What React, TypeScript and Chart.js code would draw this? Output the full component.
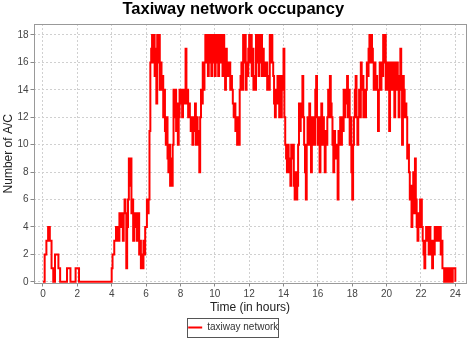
import React, { useEffect, useRef } from "react";
import { Chart, registerables } from "chart.js";

Chart.register(...registerables);

const chartTitle = "Taxiway network occupancy";
const xAxisTitle = "Time (in hours)";
const yAxisTitle = "Number of A/C";
const seriesLabel = "taxiway network";

const xTicks = [0, 2, 4, 6, 8, 10, 12, 14, 16, 18, 20, 22, 24];
const yTicks = [0, 2, 4, 6, 8, 10, 12, 14, 16, 18];

// aircraft count, one row per hour; samples are evenly spread over the hour
// (10 samples = every 6 min, 20 samples = every 3 min)
const countsByHour: number[][] = [
  [0, 2, 3, 4, 3, 1, 0, 2, 2, 1],
  [0, 0, 0, 0, 1, 1, 0, 0, 0, 1],
  [1, 0, 0, 0, 0, 0, 0, 0, 0, 0],
  [0, 0, 0, 0, 0, 0, 0, 0, 0, 0],
  [1, 2, 2, 3, 3, 4, 3, 4, 3, 5, 4, 5, 4, 3, 5, 6, 5, 1, 4, 6],
  [9, 7, 9, 5, 6, 3, 5, 4, 5, 3, 4, 5, 2, 3, 1, 2, 1, 3, 2, 4],
  [4, 6, 5, 6, 11, 16, 17, 18, 16, 18, 15, 17, 13, 18, 16, 18, 14, 16, 14, 15],
  [12, 14, 11, 10, 12, 9, 8, 10, 7, 9, 7, 10, 14, 12, 14, 11, 13, 10, 12, 14],
  [13, 14, 12, 14, 13, 14, 17, 13, 14, 12, 13, 12, 11, 12, 10, 12, 11, 13, 10, 12],
  [11, 10, 8, 12, 14, 13, 16, 14, 16, 18, 16, 18, 15, 17, 18, 16, 15, 18, 16, 18],
  [15, 17, 18, 16, 15, 18, 16, 18, 17, 15, 18, 16, 14, 17, 15, 16, 15, 16, 14, 15],
  [14, 13, 12, 13, 11, 12, 10, 12, 10, 14, 15, 16, 14, 18, 16, 18, 14, 16, 15, 17],
  [18, 16, 18, 15, 17, 14, 15, 14, 18, 16, 18, 15, 18, 16, 18, 15, 17, 15, 16, 15],
  [16, 14, 15, 14, 18, 16, 18, 16, 15, 13, 12, 14, 13, 15, 14, 12, 15, 12, 14, 15],
  [17, 12, 10, 9, 8, 10, 8, 9, 7, 10, 9, 10, 7, 6, 8, 6, 7, 10, 13, 11],
  [13, 12, 15, 12, 10, 8, 6, 10, 12, 10, 13, 11, 8, 12, 10, 12, 10, 14, 15, 12],
  [10, 12, 8, 11, 13, 10, 12, 10, 8, 11, 10, 12, 14, 12, 15, 13, 12, 10, 8, 11],
  [10, 9, 10, 6, 11, 10, 12, 10, 12, 11, 14, 12, 14, 13, 15, 12, 14, 10, 12, 8],
  [6, 10, 12, 14, 15, 12, 10, 12, 14, 12, 16, 14, 15, 12, 14, 12, 14, 16, 15, 17],
  [18, 16, 18, 17, 16, 14, 16, 14, 15, 14, 11, 14, 16, 14, 16, 15, 18, 16, 18, 14],
  [16, 14, 16, 11, 15, 16, 14, 16, 15, 12, 16, 14, 16, 15, 12, 14, 17, 14, 10, 15],
  [14, 12, 13, 12, 9, 10, 8, 6, 7, 4, 6, 8, 5, 9, 6, 4, 3, 5, 4, 6],
  [6, 4, 3, 2, 1, 3, 4, 3, 4, 2, 4, 3, 2, 1, 3, 2, 4, 3, 4, 3],
  [4, 3, 4, 2, 3, 1, 1, 0, 1, 1, 0, 1, 1, 0, 1, 1, 0, 1, 1, 1],
];
const endTime = 24;
const endCount = 0;

const FONT = "'Liberation Sans', Arial, sans-serif";

const framePlugin = {
  id: "frameAndLegendBox",
  afterDatasetsDraw(chart: any) {
    const { ctx, chartArea } = chart;
    ctx.save();
    ctx.strokeStyle = "#999999";
    ctx.lineWidth = 1;
    ctx.setLineDash([]);
    ctx.strokeRect(
      Math.round(chartArea.left) + 0.5,
      Math.round(chartArea.top) + 0.5,
      Math.round(chartArea.right - chartArea.left) - 1,
      Math.round(chartArea.bottom - chartArea.top) - 1
    );
    ctx.restore();
  },
  afterDraw(chart: any) {
    const lg = chart.legend;
    if (!lg || !lg.legendHitBoxes || !lg.legendHitBoxes.length) return;
    const hb = lg.legendHitBoxes[0];
    const { ctx } = chart;
    ctx.save();
    ctx.strokeStyle = "#555555";
    ctx.lineWidth = 1;
    ctx.setLineDash([]);
    const l = Math.round(hb.left - 1) + 0.5;
    const t = Math.round(hb.top - 5) + 0.5;
    const r = Math.round(hb.left + hb.width) + 0.5;
    const b = Math.round(hb.top + hb.height + 4) + 0.5;
    ctx.strokeRect(l, t, r - l, b - t);
    ctx.restore();
  },
};

export default function App() {
  const canvasRef = useRef<HTMLCanvasElement | null>(null);

  useEffect(() => {
    document.body.style.margin = "0";
    const canvas = canvasRef.current;
    if (!canvas) return;

    const points: { x: number; y: number }[] = [];
    countsByHour.forEach((row, h) => {
      row.forEach((v, i) => {
        points.push({ x: Math.round((h + i / row.length) * 1000) / 1000, y: v });
      });
    });
    points.push({ x: endTime, y: endCount });

    const gridCommon = {
      color: "#d0d0d0",
      lineWidth: 1,
      drawTicks: true,
      tickLength: 3,
      tickColor: "#888888",
      tickBorderDash: [],
    };

    const chart = new Chart(canvas, {
      type: "line",
      data: {
        datasets: [
          {
            label: seriesLabel,
            data: points,
            borderColor: "#ff0000",
            backgroundColor: "#ff0000",
            borderWidth: 2,
            pointRadius: 0,
            stepped: "before",
            fill: false,
            tension: 0,
          },
        ],
      },
      options: {
        responsive: false,
        animation: false,
        devicePixelRatio: 1,
        events: [],
        layout: { padding: { top: 0, left: 0, right: 0.5, bottom: -3.5 } },
        plugins: {
          title: {
            display: true,
            text: chartTitle,
            color: "#000000",
            font: { family: FONT, size: 16.5, weight: "bold" },
            padding: { top: 0, bottom: 4.2 },
          },
          legend: {
            display: true,
            position: "bottom",
            labels: {
              usePointStyle: true,
              pointStyle: "line",
              pointStyleWidth: 14,
              color: "#333333",
              font: { family: FONT, size: 10 },
              padding: 8,
            },
          },
          tooltip: { enabled: false },
        },
        scales: {
          x: {
            type: "linear",
            min: -0.55,
            max: 24.65,
            afterBuildTicks: (s: any) => {
              s.ticks = xTicks.map((v) => ({ value: v }));
            },
            afterFit: (s: any) => {
              s.height = 31;
            },
            ticks: {
              color: "#444444",
              font: { family: FONT, size: 10 },
              padding: 1.5,
              maxRotation: 0,
              autoSkip: false,
              callback: (v: any) => String(v),
            },
            grid: gridCommon,
            border: { display: false, dash: [2, 2] },
            title: {
              display: true,
              text: xAxisTitle,
              color: "#222222",
              font: { family: FONT, size: 12 },
              padding: { top: 0, bottom: 0 },
            },
          },
          y: {
            type: "linear",
            min: -0.12,
            max: 18.8,
            afterBuildTicks: (s: any) => {
              s.ticks = yTicks.map((v) => ({ value: v }));
            },
            afterFit: (s: any) => {
              s.width = 33.5;
            },
            ticks: {
              color: "#444444",
              font: { family: FONT, size: 10 },
              padding: 2,
              autoSkip: false,
              callback: (v: any) => String(v),
            },
            grid: gridCommon,
            border: { display: false, dash: [2, 2] },
            title: {
              display: true,
              text: yAxisTitle,
              color: "#222222",
              font: { family: FONT, size: 12 },
              padding: { top: 1, bottom: 0 },
            },
          },
        },
      },
      plugins: [framePlugin],
    } as any);

    return () => {
      chart.destroy();
    };
  }, []);

  return (
    <div style={{ width: 467, height: 339, background: "#ffffff" }}>
      <canvas ref={canvasRef} width={467} height={339} style={{ display: "block", width: 467, height: 339 }} />
    </div>
  );
}
